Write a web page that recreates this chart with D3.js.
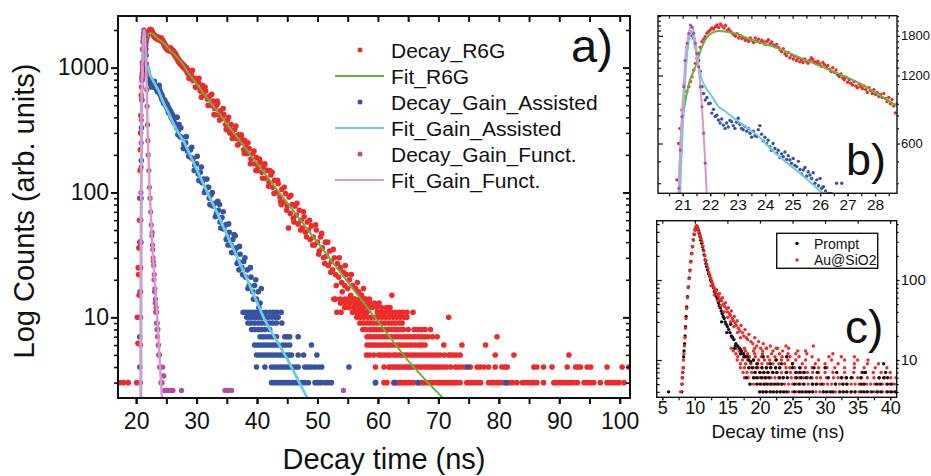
<!DOCTYPE html>
<html>
<head>
<meta charset="utf-8">
<script src="https://cdn.jsdelivr.net/npm/d3@7"></script>
<style>
  body { margin: 0; background: #fff; }
  text { font-family: "Liberation Sans", Arial, Helvetica, sans-serif; fill: #111; }
</style>
</head>
<body>
<svg id="chart" width="931" height="476"></svg>
<script>
"use strict";

// ---------- data: decay time (ns), counts ----------
const r6gRise = [[17.3,3],[17.9,3],[18.7,3],[20.1,3],[20.2,10],[20.3,6.2],[20.35,25],[20.4,22],[20.45,36],[20.5,15],[20.55,60],[20.6,90],[20.62,40],[20.66,150],[20.7,220],[20.74,300],[20.79,414],[20.85,600],[20.9,700]];
const r6gPeak = [[20.97,844],[21.02,900],[21.09,967],[21.15,1020],[21.22,1070],[21.28,1130],[21.34,1187],[21.4,1270],[21.46,1359],[21.52,1430],[21.58,1503],[21.64,1600],[21.7,1693],[21.76,1740],[21.82,1783],[21.88,1850],[21.94,1880],[22.0,1910],[22.06,1950],[22.12,1930],[22.19,1974],[22.25,2010],[22.31,1960],[22.37,2030],[22.43,1990],[22.5,1950],[22.56,2000],[22.62,1900],[22.68,1930],[22.74,1880],[22.8,1850],[22.86,1820],[22.92,1790],[22.98,1840],[23.04,1760],[23.1,1800],[23.16,1750],[23.22,1770],[23.28,1720],[23.34,1740],[23.4,1700],[23.46,1760],[23.52,1720],[23.58,1680],[23.64,1760],[23.7,1700],[23.76,1740],[23.82,1680],[23.88,1720],[23.94,1690],[24.0,1650],[24.06,1700],[24.12,1730],[24.18,1660],[24.24,1690],[24.3,1640],[24.36,1610],[24.42,1650],[24.48,1600],[24.54,1560],[24.6,1530],[24.66,1580],[24.72,1500],[24.78,1470],[24.84,1520],[24.9,1440],[24.96,1480],[25.02,1420],[25.08,1460],[25.14,1400],[25.2,1430],[25.26,1380],[25.32,1410],[25.38,1370],[25.44,1420],[25.5,1390],[25.56,1360],[25.62,1400],[25.68,1440],[25.74,1410],[25.8,1380],[25.86,1360],[25.92,1390],[25.98,1350],[26.04,1320],[26.1,1370],[26.16,1340],[26.22,1300],[26.28,1330],[26.34,1280],[26.4,1250],[26.46,1300],[26.52,1240],[26.58,1270],[26.64,1210],[26.7,1190],[26.76,1220],[26.82,1170],[26.88,1150],[26.94,1180],[27.0,1120],[27.06,1150],[27.12,1110],[27.18,1090],[27.24,1130],[27.3,1080],[27.36,1060],[27.42,1100],[27.48,1070],[27.54,1050],[27.6,1080],[27.66,1040],[27.72,1010],[27.78,1060],[27.84,1030],[27.9,1000],[27.96,1040],[28.02,990],[28.08,1010],[28.14,970],[28.2,990],[28.26,960],[28.32,1000],[28.38,950],[28.44,920],[28.5,960],[28.56,900],[28.62,940],[28.68,880],[28.74,820],[28.8,900]];
const r6gBand = [[29.1,880],[29.3,950],[29.4,790],[29.7,820],[29.8,700],[30.0,700],[30.3,760],[30.4,820],[30.6,650],[30.8,580],[30.9,690],[31.0,720],[31.2,600],[31.4,700],[31.5,650],[31.8,560],[31.9,500],[32.1,590],[32.4,500],[32.5,610],[32.7,540],[32.9,420],[33.0,470],[33.3,500],[33.4,540],[33.5,520],[33.6,420],[33.8,380],[33.9,450],[34.2,390],[34.4,470],[34.5,420],[34.8,350],[34.9,320],[35.1,380],[35.3,400],[35.4,330],[35.5,300],[35.7,350],[35.9,270],[36.0,290],[36.3,320],[36.5,340],[36.6,270],[36.8,240],[36.9,290],[37.2,250],[37.4,290],[37.5,270],[37.8,220],[37.9,205],[38.0,260],[38.1,240],[38.4,205],[38.5,250],[38.7,225],[38.9,170],[39.0,185],[39.3,205],[39.5,215],[39.6,170],[39.8,150],[39.9,190],[40.0,150],[40.2,160],[40.4,185],[40.5,175],[40.8,145],[40.9,130],[41.1,160],[41.3,170],[41.4,130],[41.7,150],[41.9,112],[42.0,120],[42.1,150],[42.3,138],[42.5,145],[42.6,110],[42.8,98],[42.9,125],[43.2,100],[43.4,125],[43.5,118],[43.8,92],[43.9,85],[44.0,80],[44.1,106],[44.4,84],[44.5,110],[44.7,98],[44.9,72],[45.0,78],[45.2,52],[45.3,92],[45.5,68],[45.6,95],[45.8,80],[46.0,62],[46.1,58],[46.3,78],[46.5,66],[46.6,82],[46.8,56],[47.0,72],[47.2,50],[47.3,60],[47.5,52],[47.7,70],[47.8,64],[48.0,48],[48.2,44],[48.3,58],[48.5,50],[48.7,60],[48.8,42],[49.0,54],[49.2,38],[49.3,44],[49.5,38],[49.7,55],[49.8,50],[50.0,40],[50.2,32],[50.3,34],[50.5,44],[50.7,47],[50.8,36],[51.0,30],[51.2,27],[51.3,40],[51.5,31],[51.7,40],[51.8,26],[52.0,34],[52.2,23],[52.3,28],[52.5,24],[52.6,35],[52.7,14],[52.8,30],[53.0,22],[53.1,18],[53.2,11],[53.3,27],[53.5,21],[53.6,30],[53.8,25],[53.9,11],[54.0,19],[54.1,16],[54.3,23],[54.5,18],[54.6,26],[54.8,22],[55.0,17],[55.1,14],[55.3,20],[55.5,15],[55.6,22],[55.8,18],[56.0,14],[56.1,12],[56.3,17],[56.5,13],[56.6,19],[56.8,16],[57.0,12],[57.1,10],[57.3,15],[57.5,13],[57.6,17],[57.8,11],[58.0,14],[62.3,15],[65.8,11]];
// low-count rows of the R6G tail: [counts, decay times]
const r6gRows = [
  [3, [59.6,61.0,61.5,62.6,62.9,63.4,63.8,64.3,64.6,65.0,65.4,65.9,66.7,67.1,67.5,68.0,68.4,68.8,69.2,69.8,70.2,70.6,71.0,71.4,71.8,72.2,72.6,73.0,73.6,74.7,75.1,75.5,76.0,76.5,77.0,78.3,78.8,79.2,79.7,80.2,80.8,81.4,81.8,82.3,83.0,83.9,84.4,84.9,85.4,85.8,86.3,87.4,89.1,89.5,90.0,90.4,90.9,91.4,91.9,92.4,93.0,94.1,94.6,95.1,95.7,96.8,97.9,98.4,98.9,99.4,99.9,100.7]],
  [4, [59.6,61.0,61.8,62.2,62.6,63.0,63.4,63.8,64.3,64.7,65.1,65.5,65.9,66.4,66.8,67.2,67.7,68.1,68.5,68.9,69.4,69.8,70.3,70.8,71.3,72.0,72.8,73.3,73.9,74.5,75.3,76.4,76.9,77.5,78.3,79.4,80.5,81.0,81.4,85.8,86.3,87.4,88.8,91.3,92.7,93.1,93.5,94.6,95.2,97.9,100.4,101.5]],
  [5, [58.1,58.6,59.3,60.1,60.5,61.0,61.5,62.0,62.6,63.0,63.5,64.0,64.4,64.8,65.3,65.8,66.3,66.8,67.3,67.8,68.3,68.8,69.3,69.8,70.3,71.0,71.7,72.0,72.5,73.0,73.6,79.4,82.5,91.6]],
  [6, [58.2,58.7,59.2,59.6,60.1,60.6,61.1,61.6,62.1,62.6,63.1,63.6,64.1,64.6,65.1,65.6,66.2,66.8,67.3,67.8,70.9,73.9,77.8]],
  [7, [58.2,58.7,59.2,59.7,60.2,60.7,61.2,61.7,62.2,62.7,63.2,63.7,64.2,64.7,65.2,65.7,66.2,66.7,67.2,67.7,68.3,69.0,69.8,79.7]],
  [8, [57.5,58.0,58.7,59.2,59.7,60.2,60.7,61.2,61.7,62.2,62.7,63.2,63.7,64.2,65.0,66.0,66.6,67.2,67.8,68.7]],
  [9, [57.0,57.6,58.2,58.7,59.3,59.9,60.5,61.1,61.7,62.3,62.9,63.5,64.0]],
  [10, [56.5,57.1,57.7,58.3,58.9,59.5,60.1,60.7,61.3,61.9,62.5,63.1,63.7,64.3,64.8,71.7]],
  [11, [55.8,56.4,57.0,57.6,58.2,59.9,60.5,61.1,61.7,62.3,62.9,63.5,64.1,64.8]],
  [12, [54.5,55.2,56.0,56.8,57.5,58.3,59.0,59.8,60.6,61.4,62.0]],
  [13, [53.8,54.6,55.4,56.2,57.0,57.8,58.6,59.4,60.2]],
  [14, [53.0,53.8,54.6,55.4,56.2,57.0,57.8,58.6]]
];
const fitR6G = [[20.85,330],[20.95,700],[21.04,844],[21.2,1071],[21.46,1313],[21.7,1610],[21.95,1812],[22.31,1892],[22.8,1858],[23.5,1730],[24.5,1580],[25.5,1400],[26.5,1250],[27.5,1100],[28.8,880],[30,740],[32,550],[35,355],[40,171],[45,82.6],[50,39.9],[55,19.2],[60,9.3],[65,4.5],[71,2.2]];

const gainRise = [[20.6,7],[20.62,4],[20.65,16],[20.7,10],[20.75,40],[20.8,90],[20.85,180],[20.9,330],[20.95,550]];
const gainPeak = [[21.0,800],[21.05,1100],[21.09,1399],[21.16,1600],[21.22,1750],[21.28,1870],[21.34,1800],[21.4,1750],[21.46,1610],[21.52,1500],[21.58,1400],[21.64,1250],[21.7,1070],[21.76,1000],[21.82,935],[21.88,960],[21.94,900],[22.0,905],[22.06,818],[22.12,850],[22.18,790],[22.24,800],[22.3,762],[22.36,740],[22.42,770],[22.48,724],[22.54,700],[22.6,740],[22.66,710],[22.72,760],[22.78,749],[22.84,720],[22.9,700],[22.96,745],[23.02,776],[23.08,730],[23.14,700],[23.2,690],[23.27,713],[23.33,680],[23.39,700],[23.45,666],[23.51,640],[23.57,680],[23.63,650],[23.69,644],[23.75,690],[23.81,720],[23.87,660],[23.93,616],[23.99,640],[24.05,600],[24.11,620],[24.17,580],[24.23,560],[24.29,600],[24.36,570],[24.42,543],[24.48,560],[24.54,520],[24.6,540],[24.66,525],[24.72,550],[24.78,510],[24.84,530],[24.9,507],[24.96,490],[25.02,515],[25.08,480],[25.15,474],[25.21,500],[25.27,460],[25.33,440],[25.39,458],[25.45,470],[25.51,430],[25.57,450],[25.63,435],[25.69,420],[25.75,445],[25.81,400],[25.88,414],[25.94,390],[26.0,420],[26.06,380],[26.12,386],[26.2,370],[26.3,360],[26.79,400]];
const gainBand = [[26.4,360],[26.6,400],[26.7,330],[26.9,290],[27.0,315],[27.1,350],[27.3,280],[27.4,330],[27.6,275],[27.8,225],[27.9,245],[28.2,250],[28.3,280],[28.5,215],[28.7,195],[28.8,220],[29.0,220],[29.1,190],[29.2,230],[29.4,185],[29.6,150],[29.7,165],[30.0,170],[30.1,195],[30.3,140],[30.4,125],[30.5,125],[30.6,145],[30.8,160],[30.9,120],[31.2,128],[31.3,100],[31.5,105],[31.7,128],[31.8,110],[32.0,110],[32.1,90],[32.2,80],[32.4,96],[32.6,100],[32.7,78],[33.0,82],[33.1,64],[33.3,68],[33.5,85],[33.6,72],[33.8,80],[33.9,58],[34.0,52],[34.2,63],[34.4,70],[34.5,51],[34.8,55],[34.9,42],[35.1,44],[35.2,38],[35.3,56],[35.4,48],[35.7,38],[35.8,33],[36.0,42],[36.2,46],[36.3,33],[36.4,45],[36.6,36],[36.7,27],[36.9,28],[37.0,24],[37.1,37],[37.2,32],[37.5,25],[37.6,22],[37.8,28],[38.0,30],[38.1,21],[38.4,24],[38.5,17],[38.7,18],[38.9,25],[39.0,21],[39.3,16],[39.4,14],[39.6,18],[39.8,20],[39.9,14],[40.2,16],[40.3,12],[40.5,13],[40.7,17]];
const gainRows = [
  [3, [42.4,42.9,43.4,43.9,44.4,44.9,45.4,45.9,46.4,46.9,47.4,47.9,48.5,49.6,50.1,50.6,51.2,51.7,52.3,59.6,62.8,66.6,81.2]],
  [4, [39.9,41.3,42.4,42.9,43.4,43.9,44.4,44.9,45.4,45.9,46.4,46.8,47.9,48.4,48.9,49.5,50.1,50.7,55.2,74.9]],
  [5, [39.9,40.4,40.9,41.4,41.9,42.4,42.9,43.4,43.9,44.4,44.9,45.3,45.7,46.8,47.7,49.9]],
  [6, [39.6,40.1,40.6,41.1,41.6,42.1,42.6,43.0,43.5,44.3,44.8,45.4,49.0]],
  [7, [40.5,41.0,41.6,42.1,42.6,43.2,44.6,45.0,45.4,46.8]],
  [8, [39.1,39.6,40.2,40.7,41.3,42.1]],
  [9, [38.5,39.0,39.6,40.2,40.8,41.4,42.0,42.6,43.2,44.1]],
  [10, [38.3,38.8,39.3,39.8,40.3,40.8,41.3,41.8,42.4,43.0,43.5]],
  [11, [37.7,38.2,38.7,39.2,39.7,40.2,40.7,41.4,42.1,42.7,43.3,44.0]]
];
const fitGain = [[20.8,2.3],[20.86,100],[20.9,300],[21.0,700],[21.1,1200],[21.2,1650],[21.28,1892],[21.35,1850],[21.45,1600],[21.58,1313],[21.7,1150],[21.82,1071],[22.07,967],[22.31,873],[22.49,844],[22.79,789],[23.28,713],[23.77,644],[24.25,562],[24.73,499],[25.27,443],[26.0,370],[27,300],[28,250],[29,196],[30.6,133],[32,95],[33.5,67],[35,46],[36.5,32],[38,22],[39.65,14.5],[41.3,9.5],[42.2,7.9],[43.5,6.2],[44.6,5.0],[45.7,4.0],[47,3.0],[48.5,2.18]];

const functDecay = [[20.7,3],[20.72,6],[20.74,10],[20.75,16],[20.76,25],[20.77,40],[20.78,60],[20.8,100],[20.82,160],[20.84,250],[20.86,380],[20.91,561],[20.97,789],[21.04,1071],[21.09,1399],[21.16,1667],[21.22,1845],[21.28,2010],[21.34,1966],[21.4,1850],[21.46,1667],[21.52,1500],[21.58,1313],[21.64,1071],[21.7,873],[21.76,666],[21.82,491],[21.88,349],[21.94,260],[22.0,200],[22.1,150],[22.2,110],[22.3,90],[22.4,70],[22.5,55],[22.6,45],[22.65,48],[22.7,38],[22.75,35],[22.8,30],[22.85,28],[22.9,26],[22.95,20],[23.0,22],[23.05,16],[23.1,17],[23.15,13],[23.2,14],[23.25,11],[23.3,12],[23.35,9],[23.4,11],[23.45,8],[23.5,9],[23.55,7],[23.6,8],[23.65,6],[23.7,6],[23.75,5],[23.8,5],[23.85,5],[23.9,4],[23.95,4],[24.0,4],[24.05,4],[24.1,3],[24.2,3],[24.3,3],[24.4,4],[24.5,3.4],[24.6,3.4],[24.7,2.6],[25.0,2.6],[25.4,2.6],[25.8,2.6],[26.1,2.6],[27.5,2.6],[34.7,2.6],[35.2,2.6],[35.8,2.6],[54.3,2.6]];
const fitFunct = [[20.74,2.3],[20.78,30],[20.82,150],[20.86,380],[20.91,561],[20.97,789],[21.04,1071],[21.09,1399],[21.16,1667],[21.22,1845],[21.3,1990],[21.36,1960],[21.46,1667],[21.58,1313],[21.64,1071],[21.7,873],[21.76,666],[21.82,491],[21.88,349],[22.0,220],[22.27,97],[22.6,45],[23.0,22],[23.4,12],[23.9,4.5],[24.25,2.3]];

// panel c
const promptCurve = [[5.97,4],[8.0,4],[8.05,5],[8.1,6],[8.15,7],[8.23,8],[8.28,11],[8.34,13],[8.42,16],[8.5,20],[8.57,26],[8.65,35],[8.75,46],[8.87,62],[9.0,82],[9.13,106],[9.26,133],[9.39,170],[9.52,215],[9.64,260],[9.77,316],[9.9,370],[10.03,422],[10.16,450],[10.29,464],[10.42,445],[10.55,420],[10.68,380],[10.8,347],[10.93,315],[11.06,288],[11.18,260],[11.3,237],[11.44,205],[11.57,178],[11.7,160],[11.8,147],[11.95,133],[12.1,120],[12.25,112],[12.4,100],[12.55,95],[12.7,86],[12.85,80],[13.0,72],[13.15,66],[13.2,75],[13.3,62],[13.45,58],[13.6,52],[13.75,48],[13.8,55],[13.9,45],[14.05,41],[14.1,30],[14.2,38],[14.35,35],[14.5,33],[14.65,30],[14.8,28],[14.9,22],[15.0,26],[15.2,24],[15.4,22],[15.5,28],[15.6,20],[15.7,19.6],[15.8,19],[16.0,18],[16.1,14],[16.2,15],[16.3,16],[16.6,15],[16.9,14],[17.0,13.3],[17.2,13],[17.5,12],[17.8,11],[18.1,11],[18.6,9.5]];
const promptRows = [
  [4, [20.0,20.5,21.0,21.6,22.1,22.6,23.1,23.6,24.1,25.3,26.0,26.5,27.1,27.6,28.1,29.7,30.2,30.8,31.2,32.3,32.8,33.3,34.0,34.6,35.5,36.0,36.5,37.2,38.0,38.6,39.6,40.2,40.8]],
  [5, [18.5,19.5,20.0,20.6,21.1,21.7,22.3,22.8,23.4,25.3,26.0,26.7,28.1,28.7,29.5,31.6,32.7,33.3,35.5,36.0,37.9,38.5,39.6,40.2]],
  [6, [17.9,19.0,19.5,20.2,20.8,21.4,23.0,23.6,24.2,25.6,26.3,27.1,27.8,30.5,32.5,33.3,34.0,35.5,38.3,39.0,39.6]],
  [7, [19.2,20.0,20.6,21.2,22.0,22.6,24.1,25.5,26.1,26.8,28.8,31.8,35.7,36.2,39.3]],
  [8, [18.3,18.8,19.5,20.3,21.0,21.6,22.4,23.0,25.0,26.1,28.3,30.0]],
  [9, [19.6,21.6,23.3,25.0,39.0]],
  [10, [18.3,19.0,22.5]],
  [11, [17.6,20.5,24.1]],
  [12, [17.0]]
];
const sio2Curve = [[7.8,4],[7.98,5],[8.05,6],[8.12,7],[8.2,8],[8.26,10],[8.32,12],[8.4,15],[8.48,19],[8.56,25],[8.64,33],[8.74,44],[8.86,60],[8.98,80],[9.1,104],[9.23,130],[9.36,168],[9.49,212],[9.62,262],[9.75,320],[9.88,375],[10.0,425],[10.13,460],[10.26,480],[10.39,465],[10.52,430],[10.65,395],[10.8,360],[10.95,330],[11.1,300],[11.25,265],[11.4,230],[11.55,200],[11.7,175],[11.85,155],[12.0,140],[12.15,125],[12.3,115],[12.45,105],[12.5,85],[12.6,97],[12.75,90],[12.9,82],[13.0,65],[13.05,78],[13.2,72],[13.35,75],[13.5,66],[13.55,55],[13.65,62],[13.8,68],[13.95,58],[14.0,48],[14.1,55],[14.25,60],[14.4,50],[14.5,40],[14.55,47],[14.7,52],[14.85,44],[15.0,40],[15.05,34],[15.15,45],[15.3,38],[15.45,36],[15.5,30],[15.6,41],[15.75,33],[15.9,31],[16.0,26],[16.05,35],[16.2,29],[16.35,27],[16.5,31],[16.55,22],[16.7,25],[16.9,23],[17.0,19],[17.1,27],[17.3,22],[17.5,20],[17.7,24],[17.9,19],[18.1,18],[18.3,21],[18.6,17],[18.9,16],[19.2,19],[19.5,15],[19.8,17],[20.1,14],[20.5,16],[21.0,14],[21.6,15],[22.5,14],[24.0,15],[28.2,15]];
const sio2Rows = [
  [4, [19.9,20.4,20.9,21.5,22.0,22.6,23.2,23.8,24.4,25.0,25.6,26.2,26.8,27.4,28.0,28.6,29.2,29.8,30.4,31.0,31.6,32.2,32.8,33.4,34.0,34.6,35.2,35.8,36.4,37.0,37.6,38.2,38.8,39.4,40.0,40.6]],
  [5, [18.4,19.0,19.6,20.2,20.8,21.4,22.0,22.6,23.2,23.8,24.4,25.0,25.6,26.2,26.8,27.4,28.0,28.6,29.2,29.8,30.4,31.0,31.6,32.2,32.8,33.4,34.0,34.6,35.2,35.8,36.4,37.0,37.6,38.2,38.8,39.4,40.0,40.6,41.0]],
  [6, [17.6,18.2,19.1,19.8,20.4,21.0,21.7,22.3,22.9,23.5,24.8,25.4,26.0,26.7,27.3,28.0,28.7,29.3,30.2,31.3,32.0,32.6,33.2,34.2,35.0,35.6,36.5,37.5,38.3,39.2,40.1,40.9]],
  [7, [17.4,18.0,18.7,19.3,20.0,20.6,21.3,21.9,22.6,23.3,24.0,24.7,25.7,26.5,27.3,28.1,29.0,30.0,31.2,33.0,34.4,36.0,37.4,38.6,40.0]],
  [8, [17.0,17.6,18.3,19.0,19.7,20.3,21.0,21.7,22.4,23.1,24.0,24.6,25.3,26.2,27.0,28.0,29.0,30.3,31.5,33.0,34.5,36.0,37.7,39.5]],
  [9, [17.0,17.8,18.6,19.5,20.3,21.2,22.0,22.9,23.8,25.0,26.5,28.5,30.0,32.0,34.5,36.5,38.2]],
  [10, [16.5,17.3,18.1,19.0,19.8,20.7,21.5,22.4,23.3,24.3,25.5,27.0,29.0,31.0,33.0,35.0,36.6]],
  [11, [16.6,17.5,18.4,19.3,20.2,21.2,22.3,23.4,24.6,26.0,28.0,30.6,32.5,34.5]],
  [12, [16.3,17.2,18.1,19.2,20.4,21.8,23.0,24.3,25.5,27.2,31.2]],
  [13, [15.9,16.8,17.8,19.0,20.4,22.0,23.5,25.8,27.0]],
  [14, [15.6,16.5,17.6,19.2,21.0,22.7,24.4]]
];

const legendA = ["Decay_R6G", "Fit_R6G", "Decay_Gain_Assisted", "Fit_Gain_Assisted", "Decay_Gain_Funct.", "Fit_Gain_Funct."];
const legendC = ["Prompt", "Au@SiO2"];
const ticksA = { x: [20, 30, 40, 50, 60, 70, 80, 90, 100], y: [10, 100, 1000] };
const ticksB = { x: [21, 22, 23, 24, 25, 26, 27, 28], y: [600, 1200, 1800] };
const ticksC = { x: [5, 10, 15, 20, 25, 30, 35, 40], y: [10, 100] };

// ---------- drawing ----------
const RED = "#ee2a2a", GREEN = "#63b440", BLUE = "#3653a4", CYAN = "#6ccde0", PURPLE = "#b04fa0", PINK = "#dc98c9";
const svg = d3.select("#chart");
const flat = rows => rows.flatMap(([v, ts]) => ts.map(t => [t, v]));

const r6gAll = r6gRise.concat(r6gPeak, r6gBand, flat(r6gRows));
const gainAll = gainRise.concat(gainPeak, gainBand, flat(gainRows));

function logMinor(lo, hi, majors) {
  const out = [];
  for (let e = 0; e < 5; e++) for (let m = 1; m < 10; m++) {
    const v = m * Math.pow(10, e);
    if (v >= lo && v <= hi && !majors.includes(v)) out.push(v);
  }
  return out;
}

function axis(g, fn, scale, vals, size, opts = {}) {
  const a = d3[fn](scale).tickValues(vals).tickSize(size).tickPadding(opts.pad ?? 3)
    .tickFormat(opts.labels ? d3.format("d") : () => "");
  g.call(a);
  g.select(".domain").remove();
  g.selectAll("line").attr("stroke", "#111").attr("stroke-width", opts.sw || 1.2);
  g.selectAll("text").attr("font-size", opts.fs || 12).attr("fill", "#111")
    .attr("font-family", '"Liberation Sans", Arial, sans-serif');
}

function dots(g, data, x, y, r, color) {
  g.selectAll(null).data(data).enter().append("circle")
    .attr("cx", d => x(d[0])).attr("cy", d => y(d[1])).attr("r", r).attr("fill", color);
}

function curve(g, data, x, y, color, w) {
  g.append("path").datum(data).attr("fill", "none").attr("stroke", color).attr("stroke-width", w)
    .attr("stroke-linejoin", "round")
    .attr("d", d3.line().x(d => x(d[0])).y(d => y(d[1])).curve(d3.curveMonotoneX));
}

function panel(id, x, y) {
  const [x0, x1] = x.range(), [y0, y1] = y.range();
  svg.append("clipPath").attr("id", id).append("rect")
    .attr("x", x0).attr("y", y1).attr("width", x1 - x0).attr("height", y0 - y1);
  return svg.append("g").attr("clip-path", `url(#${id})`);
}

function frame(x, y, sw) {
  const [x0, x1] = x.range(), [y0, y1] = y.range();
  svg.append("rect").attr("x", x0).attr("y", y1).attr("width", x1 - x0).attr("height", y0 - y1)
    .attr("fill", "none").attr("stroke", "#111").attr("stroke-width", sw);
}

// ---- panel a ----
const ax = d3.scaleLinear().domain([17, 101.7]).range([118, 630]);
const ay = d3.scaleLog().domain([2.26, 2590]).range([398, 16]);
const ga = panel("clipA", ax, ay);
dots(ga, r6gAll, ax, ay, 2.8, RED);
curve(ga, fitR6G, ax, ay, GREEN, 2);
dots(ga, gainAll, ax, ay, 2.8, BLUE);
curve(ga, fitGain, ax, ay, CYAN, 2.8);
dots(ga, functDecay, ax, ay, 2.6, PURPLE);
curve(ga, fitFunct, ax, ay, PINK, 2.4);
frame(ax, ay, 2);

const fivesA = d3.range(20, 101, 5);
const minorA = logMinor(2.26, 2590, ticksA.y);
axis(svg.append("g").attr("transform", "translate(0,398)"), "axisBottom", ax, fivesA, 6, { sw: 2 });
axis(svg.append("g").attr("transform", "translate(0,398)"), "axisBottom", ax, ticksA.x, 6, { labels: true, pad: 9, fs: 23, sw: 2 });
axis(svg.append("g").attr("transform", "translate(0,16)"), "axisBottom", ax, fivesA, 6, { sw: 2 });
axis(svg.append("g").attr("transform", "translate(118,0)"), "axisLeft", ay, ticksA.y, 7, { labels: true, pad: 2, fs: 23, sw: 2 });
axis(svg.append("g").attr("transform", "translate(118,0)"), "axisLeft", ay, minorA, 4, { sw: 1.6 });
axis(svg.append("g").attr("transform", "translate(630,0)"), "axisLeft", ay, ticksA.y, 7, { sw: 2 });
axis(svg.append("g").attr("transform", "translate(630,0)"), "axisLeft", ay, minorA, 4, { sw: 1.6 });

svg.append("text").attr("transform", "translate(34,211) rotate(-90)").attr("text-anchor", "middle")
  .attr("font-size", 29).text("Log Counts (arb. units)");
svg.append("text").attr("x", 384).attr("y", 469).attr("text-anchor", "middle")
  .attr("font-size", 29).text("Decay time (ns)");
svg.append("text").attr("x", 571).attr("y", 62).attr("font-size", 47).attr("fill", "#222").text("a)");

const legA = svg.append("g");
legendA.forEach((name, i) => {
  const yy = 50 + i * 26;
  const c = [RED, GREEN, BLUE, CYAN, PURPLE, PINK][i];
  if (i % 2 === 0) legA.append("circle").attr("cx", 360).attr("cy", yy).attr("r", 2.5).attr("fill", c);
  else legA.append("line").attr("x1", 335).attr("x2", 384).attr("y1", yy).attr("y2", yy)
    .attr("stroke", c).attr("stroke-width", 2.2);
  legA.append("text").attr("x", 391).attr("y", yy + 7.5).attr("font-size", 21).text(name);
});

// ---- panel b (zoom of a) ----
const bx = d3.scaleLinear().domain([20.1, 28.8]).range([658, 897]);
const by = d3.scaleLog().domain([361, 2210]).range([193.3, 15.7]);
const gb = panel("clipB", bx, by);
dots(gb, r6gAll, bx, by, 1.7, RED);
curve(gb, fitR6G, bx, by, GREEN, 2);
dots(gb, gainAll, bx, by, 1.7, BLUE);
curve(gb, fitGain, bx, by, CYAN, 2);
curve(gb, fitFunct, bx, by, PINK, 2);
dots(gb, functDecay, bx, by, 1.6, PURPLE);
frame(bx, by, 1.4);

const halvesB = d3.range(20.5, 28.8, 0.5);
const minorB = [400, 500, 700, 800, 900, 1000, 1100, 1300, 1400, 1500, 1600, 1700, 1900, 2000, 2100, 2200];
axis(svg.append("g").attr("transform", "translate(0,193.3)"), "axisBottom", bx, halvesB, 3, { sw: 1.2 });
axis(svg.append("g").attr("transform", "translate(0,193.3)"), "axisBottom", bx, ticksB.x, 3, { labels: true, pad: 3, fs: 15.5 });
axis(svg.append("g").attr("transform", "translate(0,15.7)"), "axisBottom", bx, halvesB, 3, { sw: 1.2 });
axis(svg.append("g").attr("transform", "translate(658,0)"), "axisRight", by, ticksB.y, 5, {});
axis(svg.append("g").attr("transform", "translate(658,0)"), "axisRight", by, minorB, 3, {});
axis(svg.append("g").attr("transform", "translate(897,0)"), "axisRight", by, ticksB.y, 3, { labels: true, pad: 1, fs: 13 });
axis(svg.append("g").attr("transform", "translate(897,0)"), "axisRight", by, minorB, 2, {});
svg.append("text").attr("x", 846).attr("y", 175).attr("font-size", 45).attr("fill", "#222").text("b)");

// ---- panel c ----
const cx = d3.scaleLinear().domain([4.14, 41]).range([656.7, 896.7]);
const cy = d3.scaleLog().domain([3.42, 551]).range([397.3, 220.7]);
const gc = panel("clipC", cx, cy);
dots(gc, flat(sio2Rows), cx, cy, 1.7, RED);
dots(gc, flat(promptRows), cx, cy, 1.7, "#111");
dots(gc, promptCurve, cx, cy, 1.7, "#111");
dots(gc, sio2Curve, cx, cy, 1.7, RED);
frame(cx, cy, 1.4);

const minorC = logMinor(3.42, 551, ticksC.y);
axis(svg.append("g").attr("transform", "translate(0,397.3)"), "axisBottom", cx, d3.range(5, 41, 2.5), 3, {});
axis(svg.append("g").attr("transform", "translate(0,397.3)"), "axisBottom", cx, ticksC.x, 3, { labels: true, pad: 1, fs: 18 });
axis(svg.append("g").attr("transform", "translate(0,220.7)"), "axisBottom", cx, d3.range(5, 41, 5), 3, {});
axis(svg.append("g").attr("transform", "translate(656.7,0)"), "axisRight", cy, ticksC.y, 5, {});
axis(svg.append("g").attr("transform", "translate(656.7,0)"), "axisRight", cy, minorC, 3, {});
axis(svg.append("g").attr("transform", "translate(896.7,0)"), "axisRight", cy, ticksC.y, 3, { labels: true, pad: 1, fs: 15 });
axis(svg.append("g").attr("transform", "translate(896.7,0)"), "axisRight", cy, minorC, 2, {});
svg.append("text").attr("x", 778).attr("y", 438).attr("text-anchor", "middle").attr("font-size", 19).text("Decay time (ns)");
svg.append("text").attr("x", 845).attr("y", 343).attr("font-size", 46).attr("fill", "#222").text("c)");

const legC = svg.append("g");
legC.append("rect").attr("x", 776.7).attr("y", 233.3).attr("width", 101).attr("height", 35)
  .attr("fill", "#fff").attr("stroke", "#111").attr("stroke-width", 1.4);
legendC.forEach((name, i) => {
  const yy = 243.5 + i * 16.5;
  legC.append("circle").attr("cx", 797).attr("cy", yy).attr("r", 1.8).attr("fill", i ? RED : "#111");
  legC.append("text").attr("x", 814).attr("y", yy + 5).attr("font-size", 14).text(name);
});
</script>
</body>
</html>
